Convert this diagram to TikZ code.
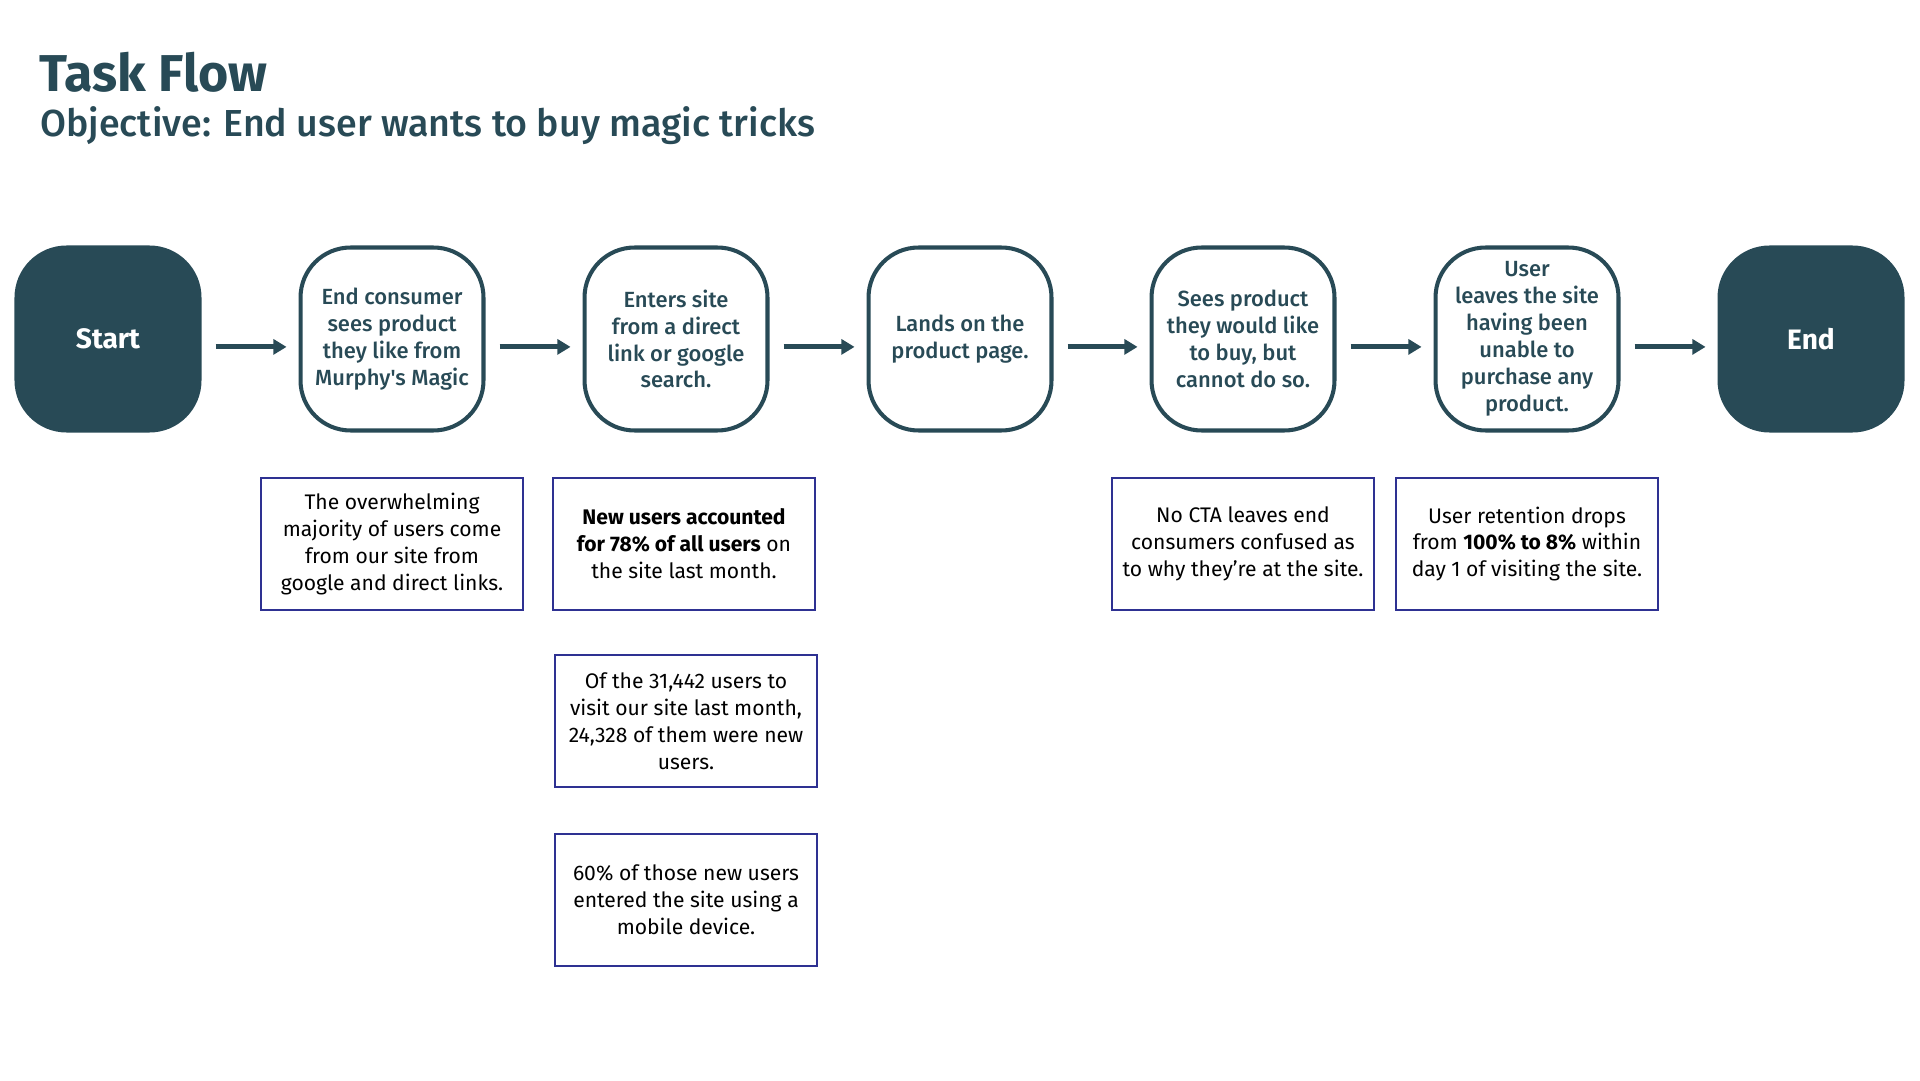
\documentclass[tikz,border=0pt]{standalone}
\usepackage{fontspec}
\setmainfont{Fira Sans}
\newfontfamily\medfont{Fira Sans Medium}
\usetikzlibrary{arrows.meta}
\definecolor{flowteal}{HTML}{284A56}
\definecolor{noteblue}{HTML}{2E3192}

\begin{document}
\begin{tikzpicture}[x=0.02cm,y=0.02cm,>={Triangle[length=7.5pt,width=8.5pt]}]
 \tikzstyle{stepnode} = [draw=flowteal,line width=2.3pt,rounded corners=1cm,minimum width=3.66cm,minimum height=3.66cm,align=center,text=flowteal,font=\medfont\fontsize{12.5}{15.3}\selectfont]
 \tikzstyle{termnode} = [stepnode,fill=flowteal,text=white,font=\bfseries\fontsize{16}{19}\selectfont]
 \tikzstyle{notebox} = [draw=noteblue,line width=1.1pt,minimum width=5.24cm,minimum height=2.64cm,align=center,font=\fontsize{12}{15.3}\selectfont]
 \tikzstyle{flowarrow} = [->,draw=flowteal,line width=2.8pt]
 \useasboundingbox (0,0) rectangle (1920,1080);

% Heading
 \node[anchor=base west,inner sep=0,text=flowteal,font=\bfseries\fontsize{29.5}{34}\selectfont] (title) at (39,988) {Task Flow};
 \node[anchor=base west,inner sep=0,text=flowteal,font=\medfont\fontsize{21.4}{25}\selectfont] (subtitle) at (40,943) {Objective: End user wants to buy magic tricks};

% Flow
 \node[termnode] (start) at (108,741) {Start};
 \node[stepnode] (s1) at (392,741) {End consumer\\ sees product\\ they like from\\ Murphy's Magic};
 \node[stepnode] (s2) at (676,741) {Enters site\\ from a direct\\ link or google\\ search.};
 \node[stepnode] (s3) at (960,741) {Lands on the\\ product page.};
 \node[stepnode] (s4) at (1243,741) {Sees product\\ they would like\\ to buy, but\\ cannot do so.};
 \node[stepnode] (s5) at (1527,741) {User\\ leaves the site\\ having been\\ unable to\\ purchase any\\ product.};
 \node[termnode] (end) at (1811,741) {End};

 \foreach \a/\b in {start/s1,s1/s2,s2/s3,s3/s4,s4/s5,s5/end}
  \draw[flowarrow] ([xshift=8pt,yshift=-4.5pt]\a.east) -- ([xshift=-6.8pt,yshift=-4.5pt]\b.west);

% Notes
 \node[notebox] (n1) at (392,536) {The overwhelming\\ majority of users come\\ from our site from\\ google and direct links.};
 \node[notebox] (n2) at (684,536) {\textbf{New users accounted}\\ \textbf{for 78\% of all users} on\\ the site last month.};
 \node[notebox] (n3) at (686,359) {Of the 31,442 users to\\ visit our site last month,\\ 24,328 of them were new\\ users.};
 \node[notebox] (n4) at (686,180) {60\% of those new users\\ entered the site using a\\ mobile device.};
 \node[notebox] (n5) at (1243,536) {No CTA leaves end\\ consumers confused as\\ to why they're at the site.};
 \node[notebox] (n6) at (1527,536) {User retention drops\\ from \textbf{100\% to 8\%} within\\ day 1 of visiting the site.};
\end{tikzpicture}
\end{document}
